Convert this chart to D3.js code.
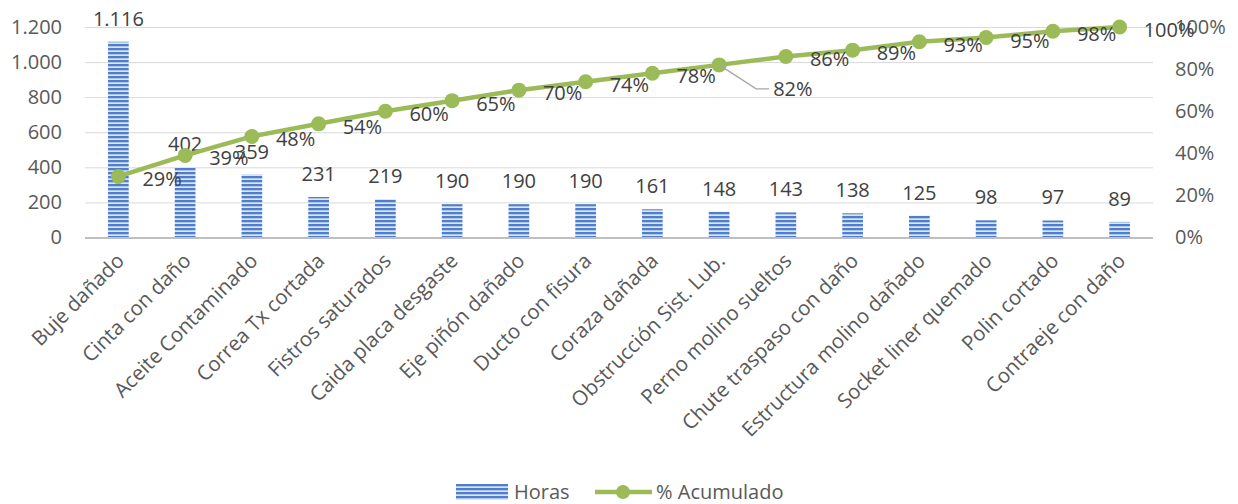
<!DOCTYPE html>
<html><head><meta charset="utf-8">
<script src="https://cdn.jsdelivr.net/npm/d3@7"></script>
<style>body{margin:0;background:#fff}svg{font-family:"Open Sans",sans-serif}</style>
</head><body><svg id="c" width="1238" height="504"></svg>
<script>
const categories = ["Buje dañado","Cinta con daño","Aceite Contaminado","Correa Tx cortada","Fistros saturados","Caida placa desgaste","Eje piñón dañado","Ducto con fisura","Coraza dañada","Obstrucción Sist. Lub.","Perno molino sueltos","Chute traspaso con daño","Estructura molino dañado","Socket liner quemado","Polin cortado","Contraeje con daño"];
const horas = [1116,402,359,231,219,190,190,190,161,148,143,138,125,98,97,89];
const acumulado = [0.29,0.39,0.48,0.54,0.60,0.65,0.70,0.74,0.78,0.82,0.86,0.89,0.93,0.95,0.98,1.00];
const leftTicks = [0,200,400,600,800,1000,1200];
const rightTicks = [0,0.2,0.4,0.6,0.8,1.0];
const seriesNames = ["Horas","% Acumulado"];

const svg = d3.select("#c");
const L = 85, R = 1153, T = 27, B = 237.5;
const x = d3.scaleBand().domain(categories).range([L,R]).paddingInner(0.69).paddingOuter(0.345);
const y = d3.scaleLinear().domain([0,1200]).range([B,T]);
const y2 = d3.scaleLinear().domain([0,1]).range([B,T]);
const fmtN = v => d3.format(",")(v).replace(/,/g,".");
const fmtP = v => Math.round(v*100)+"%";

const defs = svg.append("defs");
const pat = defs.append("pattern").attr("id","stripes").attr("patternUnits","userSpaceOnUse").attr("width",8).attr("height",4);
pat.append("rect").attr("width",8).attr("height",4).attr("fill","#dbe5f5");
pat.append("rect").attr("y",0).attr("width",8).attr("height",2.3).attr("fill","#4f7fcc");

// gridlines
svg.append("g").selectAll("line").data(leftTicks.filter(d=>d>0)).join("line")
  .attr("x1",L).attr("x2",R).attr("y1",d=>y(d)+0.5).attr("y2",d=>y(d)+0.5)
  .attr("stroke","#d9d9d9").attr("stroke-width",1);

// left axis
const ya = d3.axisLeft(y).tickValues(leftTicks).tickSize(0).tickPadding(0).tickFormat(fmtN);
const gL = svg.append("g").attr("transform",`translate(62,0)`).call(ya);
gL.select(".domain").remove();
gL.selectAll("text").attr("font-size",20).attr("fill","#595959").attr("font-family","Open Sans");
// right axis
const yb = d3.axisRight(y2).tickValues(rightTicks).tickSize(0).tickPadding(0).tickFormat(d=>Math.round(d*100)+"%");
const gR = svg.append("g").attr("transform",`translate(1175,0)`).call(yb);
gR.select(".domain").remove();
gR.selectAll("text").attr("font-size",20).attr("fill","#595959").attr("font-family","Open Sans");

// bars
svg.append("g").selectAll("rect").data(horas).join("rect")
  .attr("x",(d,i)=>x(categories[i])).attr("width",x.bandwidth())
  .attr("y",d=>y(d)).attr("height",d=>B-y(d))
  .attr("fill","url(#stripes)");

// baseline
svg.append("line").attr("x1",L).attr("x2",R).attr("y1",B+0.5).attr("y2",B+0.5).attr("stroke","#bfbfbf").attr("stroke-width",2);

// bar labels
svg.append("g").selectAll("text").data(horas).join("text")
  .attr("x",(d,i)=>x(categories[i])+x.bandwidth()/2).attr("y",d=>y(d)-16)
  .attr("text-anchor","middle").attr("font-size",20).attr("fill","#404040").text(fmtN);

// x labels
const cx = c => x(c)+x.bandwidth()/2;
svg.append("g").selectAll("text").data(categories).join("text")
  .attr("transform",c=>`translate(${cx(c)+2},${257}) rotate(-45)`)
  .attr("text-anchor","end").attr("dy","0.35em").attr("font-size",20.5).attr("fill","#595959").text(c=>c);

// line
const line = d3.line().x((d,i)=>cx(categories[i])).y(d=>y2(d));
svg.append("path").datum(acumulado).attr("d",line).attr("fill","none").attr("stroke","#9bbb59").attr("stroke-width",4.5).attr("stroke-linejoin","round");
svg.append("g").selectAll("circle").data(acumulado).join("circle")
  .attr("cx",(d,i)=>cx(categories[i])).attr("cy",d=>y2(d)).attr("r",7.5).attr("fill","#9bbb59");

// leader line for 82%
const i82 = 9;
const px = cx(categories[i82]), py = y2(acumulado[i82]);
svg.append("path").attr("d",`M${px},${py} L${px+37},${py+24} L${px+50},${py+24}`).attr("fill","none").attr("stroke","#a6a6a6").attr("stroke-width",1.3);

// pct labels
svg.append("g").selectAll("text").data(acumulado).join("text")
  .attr("x",(d,i)=> i===i82 ? cx(categories[i])+54 : cx(categories[i])+24)
  .attr("y",(d,i)=> i===i82 ? y2(d)+24 : y2(d)+3)
  .attr("dy","0.35em").attr("font-size",20).attr("fill","#404040").text(fmtP);

// legend
const lg = svg.append("g");
lg.append("rect").attr("x",456).attr("y",484).attr("width",52).attr("height",16).attr("fill","url(#stripes)");
lg.append("text").attr("x",514).attr("y",492).attr("dy","0.35em").attr("font-size",20).attr("fill","#595959").text(seriesNames[0]);
lg.append("line").attr("x1",595).attr("x2",652).attr("y1",492).attr("y2",492).attr("stroke","#9bbb59").attr("stroke-width",4.5);
lg.append("circle").attr("cx",623).attr("cy",492).attr("r",7).attr("fill","#9bbb59");
lg.append("text").attr("x",656).attr("y",492).attr("dy","0.35em").attr("font-size",20).attr("fill","#595959").text(seriesNames[1]);
</script></body></html>
